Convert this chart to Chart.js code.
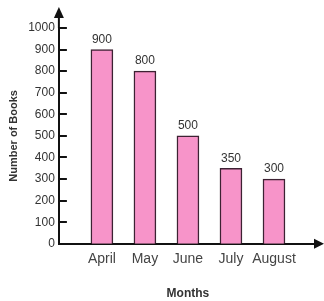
<!DOCTYPE html>
<html>
<head>
<meta charset="utf-8">
<script src="https://cdn.jsdelivr.net/npm/chart.js@4.4.0/dist/chart.umd.min.js"></script>
<style>
  html, body { margin: 0; padding: 0; background: #fff; }
  #wrap { width: 324px; height: 301px; }
</style>
</head>
<body>
<div id="wrap"><canvas id="booksChart"></canvas></div>
<script>
var months = ['April', 'May', 'June', 'July', 'August'];
var books = [900, 800, 500, 350, 300];
var yTicks = [0, 100, 200, 300, 400, 500, 600, 700, 800, 900, 1000];

// arrows, inner tick marks on y axis and value labels
var extras = {
    id: 'extras',
    afterDatasetsDraw: function(chart) {
        var ctx = chart.ctx;
        var area = chart.chartArea;
        var y = chart.scales.y;
        ctx.save();
        ctx.fillStyle = '#111';
        ctx.strokeStyle = '#111';
        ctx.lineWidth = 2;
        // y tick marks (inside)
        yTicks.forEach(function(t) {
            if (t === 0) return;
            var py = Math.round(y.getPixelForValue(t));
            ctx.beginPath();
            ctx.moveTo(area.left, py);
            ctx.lineTo(area.left + 8, py);
            ctx.stroke();
        });
        // y axis extension + arrow
        ctx.beginPath();
        ctx.moveTo(area.left, area.top);
        ctx.lineTo(area.left, area.top - 12);
        ctx.stroke();
        ctx.beginPath();
        ctx.moveTo(area.left, area.top - 21);
        ctx.lineTo(area.left - 5, area.top - 10);
        ctx.lineTo(area.left + 5, area.top - 10);
        ctx.closePath();
        ctx.fill();
        // x axis arrow
        ctx.beginPath();
        ctx.moveTo(area.right + 7, area.bottom);
        ctx.lineTo(area.right - 3, area.bottom - 5);
        ctx.lineTo(area.right - 3, area.bottom + 5);
        ctx.closePath();
        ctx.fill();
        // value labels
        ctx.fillStyle = '#333';
        ctx.font = '12px "Liberation Sans", Arial, sans-serif';
        ctx.textAlign = 'center';
        ctx.textBaseline = 'bottom';
        chart.getDatasetMeta(0).data.forEach(function(bar, i) {
            ctx.fillText(String(books[i]), bar.x, bar.y - 4);
        });
        ctx.restore();
    }
};

var ctx = document.getElementById('booksChart').getContext('2d');
var booksChart = new Chart(ctx, {
    type: 'bar',
    data: {
        datasets: [{
            data: books.map(function(v, i) { return { x: i + 1, y: v }; }),
            backgroundColor: '#f794c9',
            borderColor: '#3d2233',
            borderWidth: 1.5,
            borderSkipped: 'bottom',
            barThickness: 22
        }]
    },
    plugins: [extras],
    options: {
        responsive: true,
        maintainAspectRatio: false,
        animation: false,
        layout: { padding: { top: 28, right: 7, left: 7, bottom: 0 } },
        plugins: {
            legend: { display: false },
            tooltip: { enabled: false }
        },
        scales: {
            x: {
                type: 'linear',
                min: 0,
                max: 6,
                offset: false,
                grid: { display: false, drawTicks: false },
                border: { display: true, color: '#111', width: 2 },
                ticks: {
                    stepSize: 1,
                    autoSkip: false,
                    maxRotation: 0,
                    padding: 7,
                    color: '#444',
                    font: { family: '"Liberation Sans", Arial, sans-serif', size: 14 },
                    callback: function(v) { return months[v - 1] || ''; }
                },
                title: {
                    display: true,
                    text: 'Months',
                    color: '#333',
                    font: { family: '"Liberation Sans", Arial, sans-serif', size: 12, weight: 'bold' },
                    padding: { top: 12, bottom: 0 }
                }
            },
            y: {
                min: 0,
                max: 1000,
                afterBuildTicks: function(axis) {
                    axis.ticks = yTicks.map(function(v) { return { value: v }; });
                },
                grid: { display: false, drawTicks: false },
                border: { display: true, color: '#111', width: 2 },
                ticks: {
                    padding: 4,
                    color: '#333',
                    font: { family: '"Liberation Sans", Arial, sans-serif', size: 12 },
                    callback: function(v) { return String(v); }
                },
                title: {
                    display: true,
                    text: 'Number of Books',
                    color: '#333',
                    font: { family: '"Liberation Sans", Arial, sans-serif', size: 11, weight: 'bold' },
                    padding: { top: 0, bottom: 4 }
                }
            }
        }
    }
});
</script>
</body>
</html>
